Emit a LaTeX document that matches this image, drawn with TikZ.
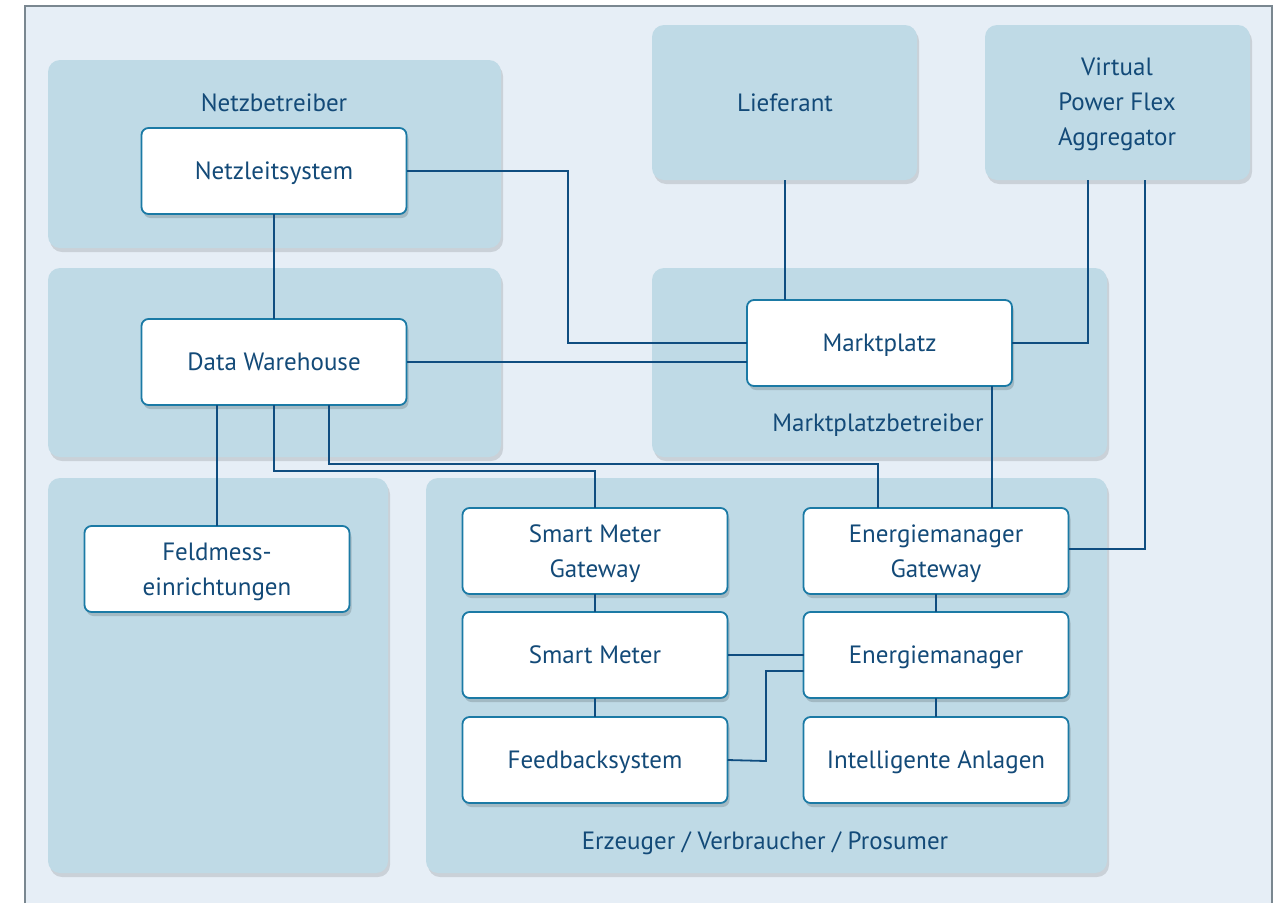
\documentclass[tikz,border=0pt]{standalone}
\usepackage{fontspec}
\setmainfont{PT Sans}
\usetikzlibrary{shadows}
\definecolor{bgc}{HTML}{E6EEF6}
\definecolor{grpc}{HTML}{BFDAE6}
\definecolor{boxc}{HTML}{1B7AA5}
\definecolor{connc}{HTML}{0F4D80}
\definecolor{txtc}{HTML}{134A78}
\definecolor{framec}{HTML}{7A8790}
\begin{document}
\begin{tikzpicture}[x=1pt,y=-1pt,
  font=\fontsize{25}{35}\selectfont,
  grp/.style={fill=grpc, rounded corners=12pt, inner sep=0pt, outer sep=0pt, anchor=north west,
    drop shadow={shadow xshift=2pt, shadow yshift=-4pt, opacity=0.12, fill=black}},
  box/.style={draw=boxc, line width=1.8pt, fill=white, rounded corners=7pt, text=txtc, align=center,
    minimum width=265pt, minimum height=86pt, inner sep=0pt, outer sep=0pt, text depth=0pt,
    drop shadow={shadow xshift=2pt, shadow yshift=-4pt, opacity=0.15, fill=black}},
  glabel/.style={text=txtc, align=center, inner sep=0pt},
  conn/.style={draw=connc, line width=1.8pt}]
\useasboundingbox (0,0) rectangle (1282,903);
\fill[white] (0,0) rectangle (1282,903);
\fill[bgc] (25,6) rectangle (1272,903);
\draw[framec, line width=2pt] (25,903) -- (25,6) -- (1272,6) -- (1272,903);

% groups
\node[grp, minimum width=453pt, minimum height=188pt] (gnb) at (48,60) {};
\node[grp, minimum width=453pt, minimum height=189pt] (gdw) at (48,268) {};
\node[grp, minimum width=340pt, minimum height=395pt] (gfm) at (48,478) {};
\node[grp, minimum width=265pt, minimum height=155pt] (glf) at (652,25) {};
\node[grp, minimum width=265pt, minimum height=155pt] (gvp) at (985,25) {};
\node[grp, minimum width=455pt, minimum height=189pt] (gmp) at (652,268) {};
\node[grp, minimum width=681pt, minimum height=395pt] (gev) at (426,478) {};

% group labels
\node[glabel] (lnb) at (274,103) {Netzbetreiber};
\node[glabel] (llf) at (785,103) {Lieferant};
\node[glabel] (lvp) at (1117,104) {Virtual\\Power Flex\\Aggregator};
\node[glabel] (lmp) at (878,425) {Marktplatzbetreiber};
\node[glabel] (lev) at (765,843) {Erzeuger / Verbraucher / Prosumer};

% boxes
\node[box] (nls) at (274,171) {Netzleitsystem};
\node[box] (dw) at (274,362) {Data Warehouse};
\node[box] (fm) at (217,569) {Feldmess-\\einrichtungen};
\node[box] (mp) at (879.5,343) {Marktplatz};
\node[box] (smg) at (595,551) {Smart Meter\\Gateway};
\node[box] (emg) at (936,551) {Energiemanager\\Gateway};
\node[box] (sm) at (595,655) {Smart Meter};
\node[box] (em) at (936,655) {Energiemanager};
\node[box] (fb) at (595,760) {Feedbacksystem};
\node[box] (ia) at (936,760) {Intelligente Anlagen};

% helper coordinates
\coordinate (c1) at (568,171);
\coordinate (c2) at (274,471);
\coordinate (c3) at (329,464);
\coordinate (x878) at (878,0);
\coordinate (x992) at (992,0);
\coordinate (x1088) at (1088,0);
\coordinate (x1145) at (1145,0);
\coordinate (c4) at (766,761);

% connectors
\draw[conn] (nls.east) -- (c1) |- (mp.west);
\draw[conn] (dw.east) -- (dw.east -| mp.west);
\draw[conn] (nls.south) -- (dw.north);
\draw[conn] (fm.north |- dw.south) -- (fm.north);
\draw[conn] (dw.south -| c2) -- (c2) -| (smg.north);
\draw[conn] (dw.south -| c3) -- (c3) -| (emg.north -| x878);
\draw[conn] (glf.south -| llf) -- (mp.north -| llf);
\draw[conn] (gvp.south -| x1088) |- (mp.east);
\draw[conn] (gvp.south -| x1145) |- ([yshift=2pt]emg.east);
\draw[conn] (mp.south -| x992) -- (emg.north -| x992);
\draw[conn] (smg.south) -- (sm.north);
\draw[conn] (sm.south) -- (fb.north);
\draw[conn] (emg.south) -- (em.north);
\draw[conn] (em.south) -- (ia.north);
\draw[conn] (sm.east) -- (em.west);
\draw[conn] (fb.east) -- (c4) |- ([yshift=-16pt]em.west);
\end{tikzpicture}
\end{document}
